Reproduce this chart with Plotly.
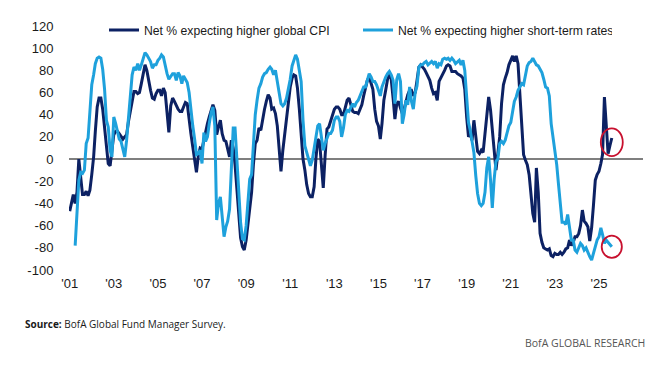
import pandas as pd
import plotly.graph_objects as go

# Net % expecting higher global CPI (monthly, Jan 2001 onwards)
cpi_2001 = [-47, -40, -32, -40, -30, 0, -15, -32, -32, -29, -33, -28]
cpi_2002 = [-14, 2, 25, 47, 55, 55, 45, 30, 12, -4, -6, 7]
cpi_2003 = [22, 25, 25, 23, 21, 18, 20, 22, 34, 45, 52, 61]
cpi_2004 = [61, 59, 60, 68, 78, 85, 80, 70, 62, 55, 54, 59]
cpi_2005 = [62, 62, 57, 64, 60, 42, 24, 48, 55, 52, 48, 45]
cpi_2006 = [43, 43, 47, 51, 50, 33, 23, 11, -2, -12, 3, 10]
cpi_2007 = [9, 18, 26, 32, 38, 45, 49, 44, 22, 29, 35, 23]
cpi_2008 = [17, 16, 10, 2, 17, 10, -5, -30, -56, -71, -79, -82]
cpi_2009 = [-73, -58, -44, -30, -5, 14, 17, 28, 26, 36, 45, 52]
cpi_2010 = [58, 55, 45, 46, 41, 30, 5, -11, 8, 22, 40, 54]
cpi_2011 = [65, 73, 76, 75, 64, 45, 20, 0, -10, -23, -31, -34]
cpi_2012 = [-34, -25, 0, 18, 16, -5, -26, 3, 27, 29, 35, 40]
cpi_2013 = [45, 47, 47, 45, 40, 40, 48, 53, 55, 49, 43, 42]
cpi_2014 = [42, 41, 45, 49, 57, 65, 71, 74, 69, 63, 45, 34]
cpi_2015 = [30, 18, 32, 53, 62, 72, 77, 72, 55, 36, 50, 52]
cpi_2016 = [46, 41, 45, 53, 58, 62, 62, 57, 60, 71, 83, 85]
cpi_2017 = [83, 81, 78, 74, 71, 64, 59, 60, 53, 70, 73, 76]
cpi_2018 = [80, 84, 85, 84, 79, 79, 79, 77, 76, 75, 73, 63]
cpi_2019 = [38, 20, 23, 17, 35, 18, 7, 5, 8, 6, 22, 42]
cpi_2020 = [56, 44, 26, 12, -10, 5, 20, 50, 67, 73, 78, 85]
cpi_2021 = [89, 93, 88, 93, 86, 55, 25, 4, -1, -5, -14, -31]
cpi_2022 = [-49, -57, -8, -30, -67, -75, -80, -81, -82, -81, -87, -88]
cpi_2023 = [-85, -86, -86, -84, -86, -84, -81, -80, -73, -78, -75, -70]
cpi_2024 = [-70, -67, -60, -46, -56, -58, -61, -74, -62, -42, -19, -14]
cpi_2025 = [-11, -4, 4, 56, 25, 5, 12, 19]

# Net % expecting higher short-term rates
rates_2001 = [None, None, None, -78, -45, -19, -12, -13, -10, 14, 19, 40]
rates_2002 = [67, 76, 86, 91, 92, 91, 81, 63, 35, 29, 8, 2]
rates_2003 = [38, 32, 24, 18, 16, 8, 2, 17, 38, 63, 76, 83]
rates_2004 = [80, 86, 80, 85, 90, 96, 94, 91, 88, 82, 85, 85]
rates_2005 = [89, 91, 94, 92, 84, 77, 72, 74, 77, 77, 71, 78]
rates_2006 = [75, 68, 75, 72, 69, 60, 44, 30, 18, 4, 5, 8]
rates_2007 = [-4, 24, 16, 20, 32, 42, 47, 30, -55, -40, -34, -55]
rates_2008 = [-70, -61, -56, -45, -8, 28, 28, 0, -30, -57, -72, -73]
rates_2009 = [-60, -38, -18, -14, 14, 40, 53, 64, 68, 74, 77, 78]
rates_2010 = [81, 83, 81, 76, 80, 70, 59, 50, 48, 50, 55, 62]
rates_2011 = [72, 84, 89, 94, 90, 80, 70, 35, 12, 6, 0, -6]
rates_2012 = [-1, 11, 21, 30, 32, 18, 8, 14, 18, 23, 23, 26]
rates_2013 = [35, 38, 38, 34, 20, 28, 40, 44, 43, 47, 50, 47]
rates_2014 = [51, 53, 57, 62, 65, 65, 70, 77, 74, 70, 70, 67]
rates_2015 = [62, 57, 65, 70, 74, 77, 79, 76, 71, 50, 72, 77]
rates_2016 = [70, 32, 40, 53, 49, 65, 52, 45, 60, 66, 83, 85]
rates_2017 = [85, 87, 88, 85, 87, 88, 86, 88, 82, 86, 85, 90]
rates_2018 = [91, 90, 91, 89, 91, 89, 86, 88, 89, 85, 89, 80]
rates_2019 = [52, 33, 26, 14, 6, -15, -31, -40, -42, -40, -30, -8]
rates_2020 = [2, -19, -44, -18, -2, 0, 14, 16, 14, 17, 23, 30]
rates_2021 = [33, 42, 52, 56, 62, 65, 68, 67, 76, 84, 87, 88]
rates_2022 = [91, 88, 85, 84, 81, 78, 72, 65, 64, 57, 32, 20]
rates_2023 = [3, -5, -22, -40, -57, -57, -59, -50, -63, -73, -73, -82]
rates_2024 = [-84, -79, -76, -78, -82, -80, -85, -88, -91, -85, -77, -73]
rates_2025 = [-70, -62, -68, -76, -73, -75, -77, -79]

tick_years = [2001, 2003, 2005, 2007, 2009, 2011, 2013, 2015, 2017, 2019, 2021, 2023, 2025]
tick_labels = ["'01", "'03", "'05", "'07", "'09", "'11", "'13", "'15", "'17", "'19", "'21", "'23", "'25"]
y_ticks = [-100, -80, -60, -40, -20, 0, 20, 40, 60, 80, 100, 120]

cpi = (cpi_2001 + cpi_2002 + cpi_2003 + cpi_2004 + cpi_2005 + cpi_2006 + cpi_2007 + cpi_2008
       + cpi_2009 + cpi_2010 + cpi_2011 + cpi_2012 + cpi_2013 + cpi_2014 + cpi_2015 + cpi_2016
       + cpi_2017 + cpi_2018 + cpi_2019 + cpi_2020 + cpi_2021 + cpi_2022 + cpi_2023 + cpi_2024 + cpi_2025)
rates = (rates_2001 + rates_2002 + rates_2003 + rates_2004 + rates_2005 + rates_2006 + rates_2007
         + rates_2008 + rates_2009 + rates_2010 + rates_2011 + rates_2012 + rates_2013 + rates_2014
         + rates_2015 + rates_2016 + rates_2017 + rates_2018 + rates_2019 + rates_2020 + rates_2021
         + rates_2022 + rates_2023 + rates_2024 + rates_2025)
dates = pd.date_range("2001-01-01", periods=len(cpi), freq="MS")

DARK = "#0c2163"
LIGHT = "#1ea1dc"
FAM = "Liberation Sans, Arial, sans-serif"
TICKFONT = dict(family=FAM, size=13, color="#1a1a1a")
LEGFONT = dict(family=FAM, size=12.2, color="#1a1a1a")

fig = go.Figure()
fig.add_trace(go.Scatter(x=dates, y=cpi, mode="lines", name="Net % expecting higher global CPI",
                         line=dict(color=DARK, width=3)))
fig.add_trace(go.Scatter(x=dates, y=rates, mode="lines", name="Net % expecting higher short-term rates",
                         line=dict(color=LIGHT, width=3)))

# red circles around latest readings
last = dates[-1]
c1 = sum(cpi[-4:]) / 4
c2 = rates[-1]
for yc, ry, rm in [(c1, 12.5, 6), (c2, 10, 5.5)]:
    fig.add_shape(type="circle", xref="x", yref="y",
                  x0=last - pd.DateOffset(days=int(rm * 30.4)), x1=last + pd.DateOffset(days=int(rm * 30.4)),
                  y0=yc - ry, y1=yc + ry, line=dict(color="#c8102e", width=1.8))

# the page body adds an 8px offset, so margins are reduced by 8px on the left/top
fig.update_layout(
    width=660, height=374,
    margin=dict(l=61, r=25, t=18, b=112, autoexpand=False),
    paper_bgcolor="white", plot_bgcolor="white",
    showlegend=True,
    legend=dict(orientation="h", x=0.061, xanchor="left", y=0.984, yanchor="middle",
                font=LEGFONT, entrywidth=209, entrywidthmode="pixels", bgcolor="rgba(0,0,0,0)",
                traceorder="normal", itemwidth=30),
    xaxis=dict(type="date", range=["2000-12-20", "2026-12-31"], showgrid=False, zeroline=False,
               showline=False, tickmode="array",
               tickvals=[pd.Timestamp(year=y, month=1, day=1) for y in tick_years],
               ticktext=tick_labels, ticks="outside", ticklen=1, tickcolor="rgba(0,0,0,0)",
               tickfont=TICKFONT),
    yaxis=dict(range=[-100, 120], showgrid=False, zeroline=True, zerolinecolor="#7f7f7f",
               zerolinewidth=1.5, showline=False, tickmode="array", tickvals=y_ticks,
               ticktext=[str(v) for v in y_ticks], ticks="outside", ticklen=12,
               tickcolor="rgba(0,0,0,0)", tickfont=TICKFONT),
    annotations=[
        dict(text="<b>Source:</b> BofA Global Fund Manager Survey.", xref="paper", yref="paper",
             x=-0.080, y=-0.221, xanchor="left", yanchor="middle", showarrow=False,
             font=dict(family="Open Sans", size=10, color="#1a1a1a")),
        dict(text="BofA GLOBAL RESEARCH", xref="paper", yref="paper",
             x=1.007, y=-0.299, xanchor="right", yanchor="middle", showarrow=False,
             font=dict(family="Open Sans", size=10.5, color="#555555")),
    ],
)

fig.write_html("out.html")
